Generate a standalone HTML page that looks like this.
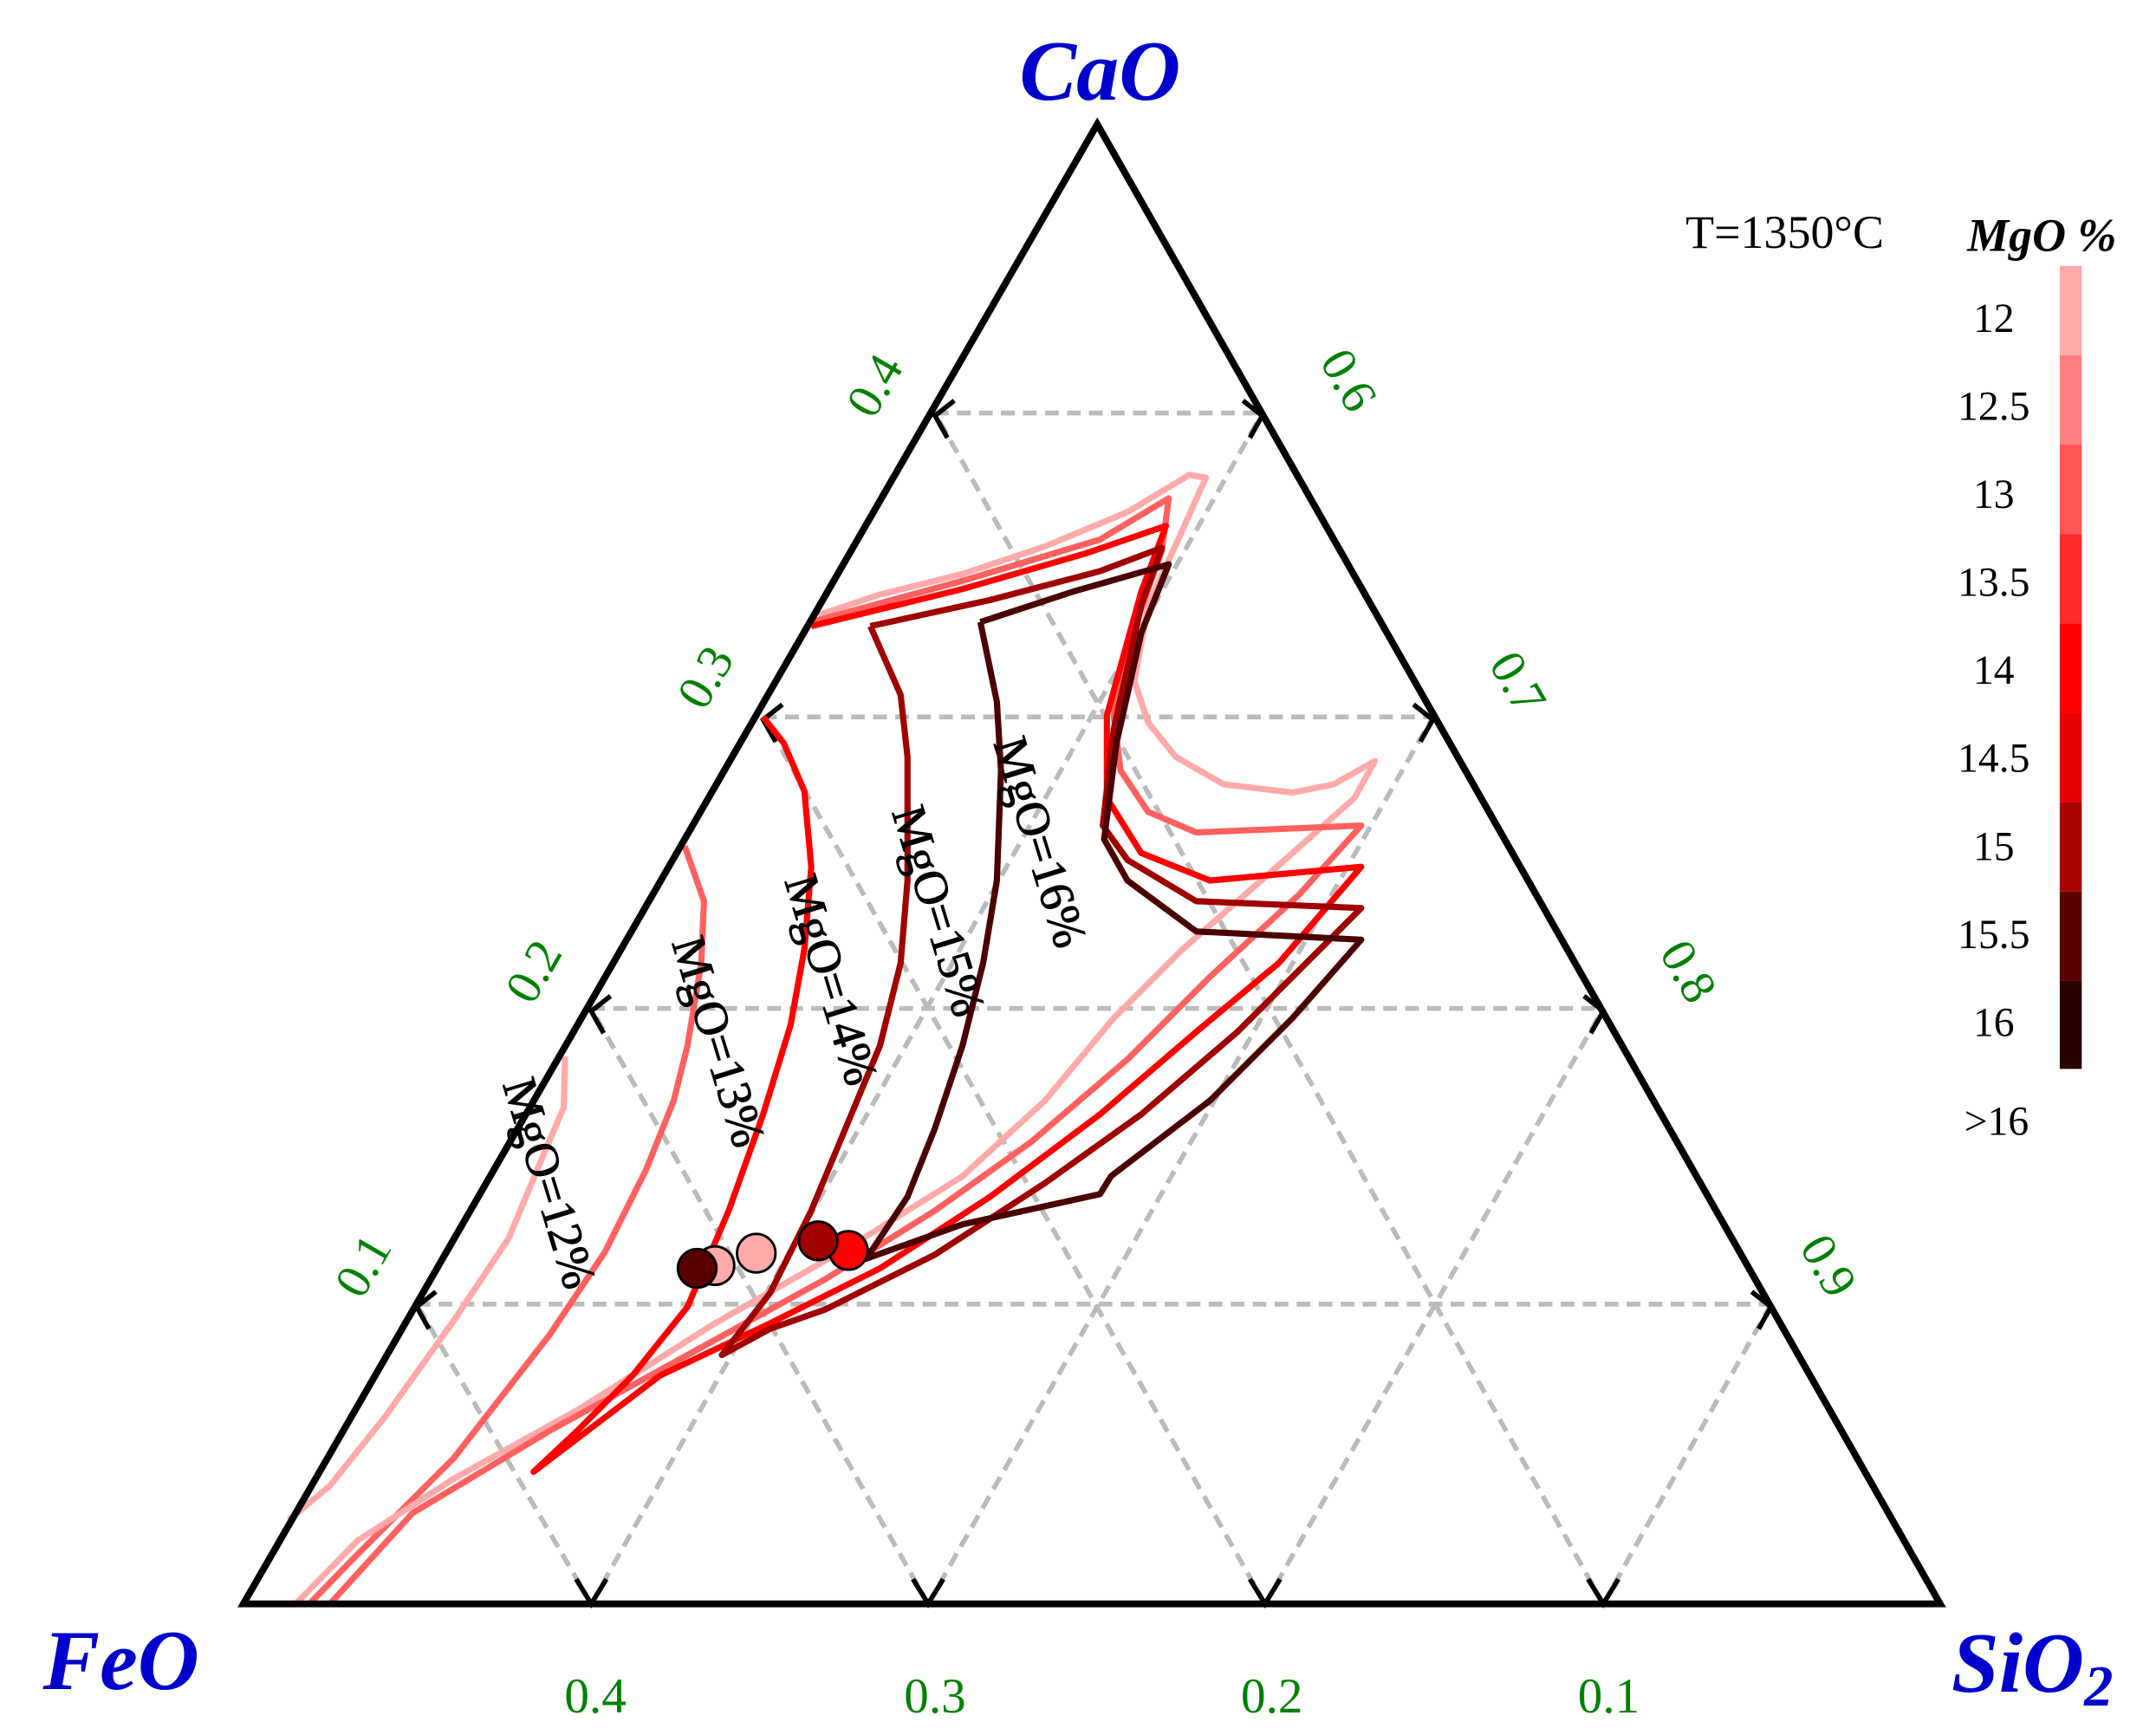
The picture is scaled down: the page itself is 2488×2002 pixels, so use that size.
<!DOCTYPE html>
<html><head><meta charset="utf-8"><style>html,body{margin:0;padding:0;background:#fff}svg{display:block}</style></head>
<body>
<svg width="2488" height="2002" viewBox="0 0 1568 1261" xmlns="http://www.w3.org/2000/svg" font-family="Liberation Serif, serif">
<rect width="1568" height="1261" fill="#fff"/>
<g stroke="#bbb" stroke-width="3.5" stroke-dasharray="10,6" fill="none">
<line x1="680" y1="300" x2="918" y2="300"/>
<line x1="555" y1="521" x2="1042" y2="521"/>
<line x1="430" y1="733" x2="1166" y2="733"/>
<line x1="303" y1="948" x2="1288" y2="948"/>
<line x1="430" y1="1166" x2="918" y2="300"/>
<line x1="675" y1="1166" x2="1042" y2="521"/>
<line x1="920" y1="1166" x2="1166" y2="733"/>
<line x1="1166" y1="1166" x2="1288" y2="948"/>
<line x1="1166" y1="1166" x2="680" y2="300"/>
<line x1="920" y1="1166" x2="555" y2="521"/>
<line x1="675" y1="1166" x2="430" y2="733"/>
<line x1="430" y1="1166" x2="303" y2="948"/>
</g>
<g stroke="#000" stroke-width="3.5" fill="none">
<polyline points="694,291 680,302 689,318"/>
<polyline points="569,512 555,523 564,539"/>
<polyline points="444,724 430,735 439,751"/>
<polyline points="317,939 303,950 312,966"/>
<polyline points="904,291 918,302 909,318"/>
<polyline points="1028,512 1042,523 1033,539"/>
<polyline points="1152,724 1166,735 1157,751"/>
<polyline points="1274,939 1288,950 1279,966"/>
<polyline points="419,1148 430,1166 441,1148"/>
<polyline points="664,1148 675,1166 686,1148"/>
<polyline points="909,1148 920,1166 931,1148"/>
<polyline points="1155,1148 1166,1166 1177,1148"/>
</g>
<g fill="none" stroke-width="4.5" stroke-linejoin="round">
<polyline stroke="#ffaaaa" points="411,768 410,805 395,840 370,900 330,960 280,1030 240,1080 210,1105"/>
<polyline stroke="#ff6060" points="498,615 512,655 510,700 500,760 490,800 470,850 440,910 400,970 330,1060 260,1130 225,1166"/>
<polyline stroke="#ffaaaa" points="595,447 640,432 700,417 760,397 820,372 865,345 877,347 860,385 835,440 825,495 835,525 855,550 890,570 940,576 970,570 1000,553 985,580 940,620 900,655 860,690 810,740 760,800 700,855 620,905 520,962 420,1025 330,1075 260,1120 215,1166"/>
<polyline stroke="#ff6060" points="590,452 700,422 800,392 850,362 845,400 820,470 810,520 815,560 835,590 870,605 990,600 945,650 880,710 820,770 750,830 680,880 600,930 500,985 400,1040 300,1100 240,1166"/>
<polyline stroke="#ff0000" points="590,455 700,428 790,402 848,382 830,430 805,520 805,580 830,620 880,640 990,630 930,700 870,750 800,810 720,870 640,922 560,962 480,1000 388,1070 420,1040 460,1000 500,950 530,880 555,810 575,745 585,690 590,630 585,575 570,540 555,521"/>
<polyline stroke="#a00000" points="633,455 720,436 800,415 845,398 830,440 810,530 802,600 820,625 870,655 990,660 950,700 900,750 830,810 760,860 680,912 600,952 560,966 525,985 560,940 590,880 615,820 640,760 655,700 660,640 660,550 655,505 633,455"/>
<polyline stroke="#4a0000" points="713,452 780,430 850,410 830,460 812,540 803,610 820,640 870,677 990,683 940,740 880,800 808,855 800,868 700,890 630,915 660,870 680,820 700,760 715,700 725,640 728,560 725,510 713,452"/>
</g>
<g stroke="#000" stroke-width="1.8">
<circle cx="520" cy="920" r="14" fill="#ffaaaa"/>
<circle cx="507" cy="922" r="14" fill="#5a0000"/>
<circle cx="550" cy="911" r="14" fill="#ffaaaa"/>
<circle cx="617" cy="909" r="14" fill="#ff0000"/>
<circle cx="595" cy="902" r="14" fill="#a00000"/>
</g>
<polygon points="798,90 177,1166 1411,1166" fill="none" stroke="#000" stroke-width="5" stroke-linejoin="miter"/>
<g font-size="35" fill="#000" text-anchor="middle" stroke="#000" stroke-width="0.6">
<text transform="translate(400,860) rotate(73)" dy="12">MgO=12%</text>
<text transform="translate(523,757) rotate(73)" dy="12">MgO=13%</text>
<text transform="translate(605,712) rotate(73)" dy="12">MgO=14%</text>
<text transform="translate(683,662) rotate(73)" dy="12">MgO=15%</text>
<text transform="translate(757,612) rotate(73)" dy="12">MgO=16%</text>
</g>
<g font-size="36" fill="#008000" text-anchor="middle">
<text transform="translate(636,280) rotate(-60)" dy="12">0.4</text>
<text transform="translate(513,492) rotate(-60)" dy="12">0.3</text>
<text transform="translate(388,706) rotate(-60)" dy="12">0.2</text>
<text transform="translate(264,920) rotate(-60)" dy="12">0.1</text>
<text transform="translate(981,276) rotate(60)" dy="12">0.6</text>
<text transform="translate(1104,496) rotate(60)" dy="12">0.7</text>
<text transform="translate(1228,706) rotate(60)" dy="12">0.8</text>
<text transform="translate(1330,920) rotate(60)" dy="12">0.9</text>
<text x="433" y="1245">0.4</text>
<text x="680" y="1245">0.3</text>
<text x="925" y="1245">0.2</text>
<text x="1170" y="1245">0.1</text>
</g>
<g font-size="62" font-weight="bold" font-style="italic" fill="#0000cc" text-anchor="middle">
<text x="800" y="72">CaO</text>
<text x="88" y="1228">FeO</text>
<text x="1478" y="1230">SiO<tspan font-size="42" dy="10">2</tspan></text>
</g>
<text x="1298" y="180" font-size="34" text-anchor="middle" fill="#000">T=1350°C</text>
<text x="1485" y="182" font-size="34" font-weight="bold" font-style="italic" text-anchor="middle" fill="#000">MgO %</text>
<g>
<rect x="1498" y="193" width="16" height="65" fill="#ffaaaa"/>
<rect x="1498" y="258" width="16" height="65" fill="#ff8080"/>
<rect x="1498" y="323" width="16" height="65" fill="#ff5555"/>
<rect x="1498" y="388" width="16" height="65" fill="#ff2a2a"/>
<rect x="1498" y="453" width="16" height="65" fill="#ff0000"/>
<rect x="1498" y="518" width="16" height="65" fill="#e60000"/>
<rect x="1498" y="583" width="16" height="65" fill="#a80000"/>
<rect x="1498" y="648" width="16" height="65" fill="#5a0000"/>
<rect x="1498" y="713" width="16" height="64" fill="#2d0000"/>
</g>
<g font-size="30" fill="#000" text-anchor="middle">
<text x="1450" y="241">12</text>
<text x="1450" y="305">12.5</text>
<text x="1450" y="369">13</text>
<text x="1450" y="433">13.5</text>
<text x="1450" y="497">14</text>
<text x="1450" y="561">14.5</text>
<text x="1450" y="625">15</text>
<text x="1450" y="689">15.5</text>
<text x="1450" y="753">16</text>
<text x="1452" y="825">&gt;16</text>
</g>
</svg>
</body></html>
